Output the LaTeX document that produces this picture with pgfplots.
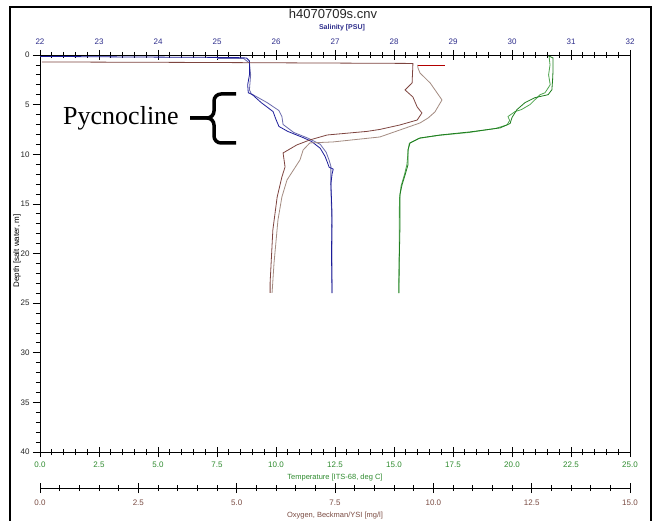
\documentclass[border=0pt]{standalone}
\usepackage{pgfplots}
\pgfplotsset{compat=1.18}
\usepackage{fontspec}
\setmainfont{Liberation Sans}
\newfontfamily\timesfont{Liberation Serif}
\definecolor{salcol}{HTML}{1C1C9A}
\definecolor{salcolB}{HTML}{6A6AAE}
\definecolor{salTick}{HTML}{2E2E8C}
\definecolor{tempcol}{HTML}{1E7E1E}
\definecolor{tempcolB}{HTML}{4FA54F}
\definecolor{tempTick}{HTML}{2E8B2E}
\definecolor{oxcol}{HTML}{7E4540}
\definecolor{oxcolB}{HTML}{A48C82}
\definecolor{oxTick}{HTML}{7A4B42}
\pgfplotsset{
  common/.style={scale only axis, width=590pt, anchor=south west,
    /pgf/number format/assume math mode=true,
    axis line style={line width=0.8pt, black},
    tick style={line width=0.7pt, black},
    tick label style={font=\fontsize{8}{9}\selectfont},
  },
}
\begin{document}
\begin{tikzpicture}[x=1pt,y=1pt]
\useasboundingbox (0,0) rectangle (658,521);
\fill[white] (0,0) rectangle (658,521);
\draw[line width=2pt] (10,0) -- (10,514) -- (651,514) -- (651,0);

% depth axis with box
\begin{axis}[common, at={(40pt,69pt)}, height=397pt,
  xmin=0, xmax=25, ymin=0, ymax=40, y dir=reverse,
  xtick=\empty, ytick={0,5,10,15,20,25,30,35,40}, minor y tick num=4,
  ytick pos=left, tick align=outside, major tick length=7pt, minor tick length=4pt,
  yticklabel style={text=black!85}]
\end{axis}

% temperature
\begin{axis}[common, at={(40pt,69pt)}, height=397pt,
  xmin=0, xmax=25, ymin=0, ymax=40, y dir=reverse,
  axis x line*=bottom, axis y line=none,
  xtick={0,2.5,5,7.5,10,12.5,15,17.5,20,22.5,25}, minor x tick num=4,
  tick align=center, major tick length=10pt, minor tick length=6pt,
  xticklabel style={text=tempTick, yshift=-1.5pt, /pgf/number format/.cd, fixed, fixed zerofill, precision=1}]
\addplot[tempcolB, line width=0.8pt] coordinates {
(21.57,0.1) (21.61,1.0) (21.55,2.0) (21.62,3.0) (21.4,3.8) (21.19,4.0) (20.76,5.0) (20.4,5.5) (20.13,5.7) (19.83,6.2) (19.9,6.6) (19.79,7.05) (19.3,7.4) (18.2,7.8) (16.9,8.1) (16.05,8.4) (15.65,8.9) (15.6,9.6) (15.55,11) (15.45,12) (15.3,13.2) (15.23,14.5) (15.22,20) (15.2,24.0)};
\addplot[tempcol, line width=0.8pt] coordinates {
(21.48,0.0) (21.74,0.3) (21.74,1.5) (21.72,2.5) (21.69,3.5) (21.53,4.0) (20.97,4.3) (20.55,4.8) (20.21,5.5) (20.0,6.3) (19.92,6.9) (19.49,7.35) (18.22,7.75) (16.95,8.06) (16.1,8.36) (15.68,8.86) (15.59,9.57) (15.59,11.08) (15.47,12.08) (15.34,13.09) (15.25,14.1) (15.25,17.6) (15.22,21) (15.21,24.0)};
\end{axis}

% salinity
\begin{axis}[common, at={(40pt,69pt)}, height=397pt,
  xmin=22, xmax=32, ymin=0, ymax=40, y dir=reverse,
  axis x line*=top, axis y line=none,
  xtick={22,23,24,25,26,27,28,29,30,31,32}, minor x tick num=4,
  tick align=center, major tick length=10pt, minor tick length=6pt,
  xticklabel style={text=salTick, yshift=1.5pt}]
\addplot[salcolB, line width=0.8pt] coordinates {
(25.0,0.35) (25.45,0.35) (25.55,0.8) (25.57,2.0) (25.55,3.5) (25.58,3.9) (25.85,4.8) (26.05,5.6) (26.1,6.2) (26.12,7.0) (26.3,7.8) (26.55,8.4) (26.75,9.0) (26.85,9.8) (26.9,10.6) (26.93,11.2) (26.93,13) (26.95,18) (26.95,24)};
\addplot[salcol, line width=0.8pt] coordinates {
(22.0,0.15) (22.3,0.15) (23.5,0.2) (25.3,0.25) (25.5,0.3) (25.55,0.6) (25.55,2.0) (25.52,3.0) (25.53,3.8) (25.6,4.0) (25.75,4.8) (25.95,5.7) (26.0,6.5) (26.05,7.2) (26.2,7.7) (26.45,8.3) (26.6,8.7) (26.75,9.4) (26.83,10.2) (26.87,10.8) (26.9,11.3) (26.97,11.5) (26.95,12.0) (26.93,13) (26.95,16) (26.94,20) (26.95,24.0)};
\end{axis}

% oxygen
\begin{axis}[common, at={(40pt,33pt)}, height=433pt,
  xmin=0, xmax=15, ymin=0, ymax=43.63, y dir=reverse,
  axis x line*=bottom, axis y line=none,
  xtick={0,2.5,5,7.5,10,12.5,15}, minor x tick num=4,
  tick align=center, major tick length=10pt, minor tick length=6pt,
  xticklabel style={text=oxTick, yshift=-3pt, /pgf/number format/.cd, fixed, fixed zerofill, precision=1}]
\addplot[oxcolB, line width=0.8pt] coordinates {
(9.6,1.0) (9.61,1.31) (9.66,1.81) (9.92,2.82) (10.22,4.53) (10.04,5.74) (9.87,6.34) (9.66,6.85) (8.64,8.26) (7.45,8.76) (6.86,8.86) (6.69,9.57) (6.61,10.57) (6.28,12.59) (6.15,14.30) (6.05,16.62) (5.95,20.95) (5.90,23.97)};
\addplot[oxcol, line width=0.8pt] coordinates {
(0.05,0.7) (4.0,0.75) (9.48,0.85) (9.48,1.0) (9.46,2.82) (9.28,3.52) (9.48,4.23) (9.59,5.24) (9.71,5.84) (9.59,6.55) (9.15,7.05) (8.64,7.5) (8.31,7.7) (7.30,8.06) (6.86,8.56) (6.53,9.06) (6.18,9.87) (6.23,11.28) (6.15,12.29) (6.03,14.30) (5.92,17.62) (5.85,22.96) (5.85,23.97)};
\addplot[red!70!black, line width=0.8pt] coordinates {(9.6,1.0) (10.3,1.0)};
\end{axis}

% texts
\node[font=\fontsize{13}{14}\selectfont, text=black!85] at (333,507) {h4070709s.cnv};
\node[font=\bfseries\fontsize{7}{8}\selectfont, text=salTick] at (342,493) {Salinity [PSU]};
\node[font=\fontsize{7.5}{8}\selectfont, text=tempTick] at (335,43) {Temperature [ITS-68, deg C]};
\node[font=\fontsize{7.5}{8}\selectfont, text=oxTick] at (335,5) {Oxygen, Beckman/YSI [mg/l]};
\node[rotate=90, font=\fontsize{8}{9}\selectfont] at (17,270) {Depth [salt water, m]};

% annotation
\node[anchor=base, font=\timesfont\fontsize{26}{28}\selectfont] at (121,396) {Pycnocline};
\draw[line width=3.5pt, rounded corners=7pt] (236,427) -- (214,427) -- (214,403) -- (190,403);
\draw[line width=3.5pt, rounded corners=7pt] (190,403) -- (214,403) -- (214,378) -- (236,378);
\end{tikzpicture}
\end{document}
